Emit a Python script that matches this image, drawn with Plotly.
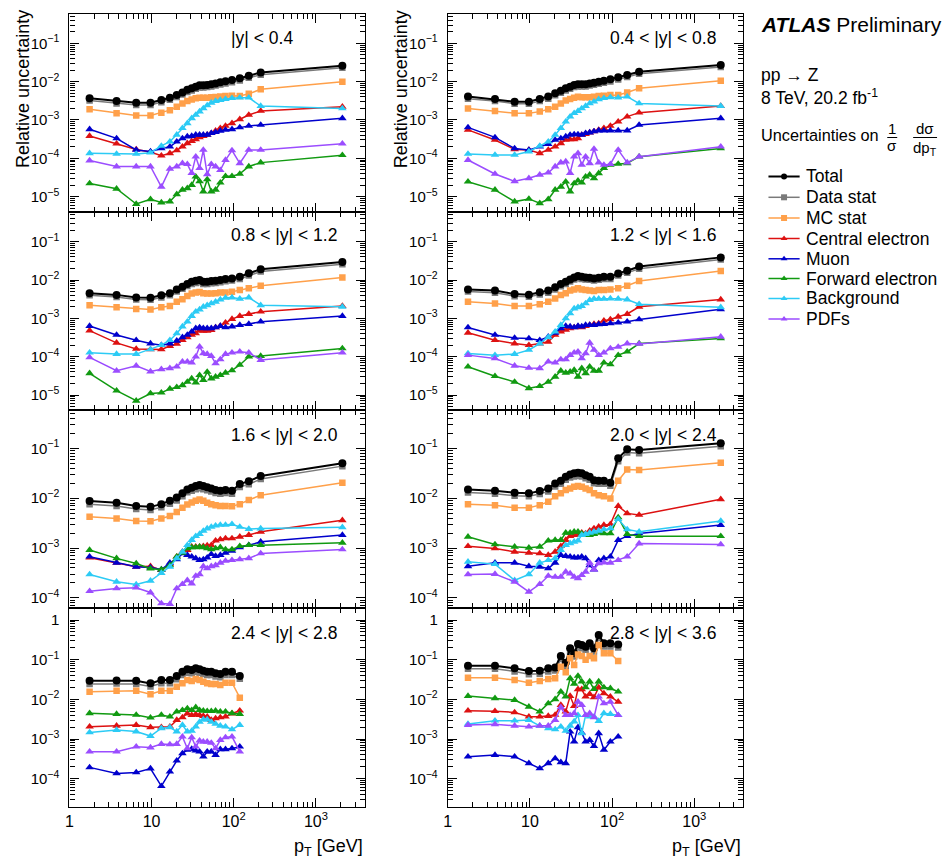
import plotly.graph_objects as go

# ---------------- data ----------------
PT = [1.76, 3.75, 6.5, 9.7, 13.15, 16.7, 20.25, 23.75, 27.25, 30.8, 34.5, 38.4,
      42.65, 47.55, 53.3, 60.15, 68.65, 79.4, 95.2, 118.5, 152.5, 213.0, 2100.0]
PT_FWD = [1.76, 3.75, 6.5, 9.7, 13.15, 16.7, 20.25, 23.75, 27.25, 30.8, 34.5, 38.4,
          42.65, 47.55, 53.3, 60.15, 68.65, 79.4, 95.2, 118.5]

RAPIDITY_LABELS = ["|y| < 0.4", "0.4 < |y| < 0.8", "0.8 < |y| < 1.2", "1.2 < |y| < 1.6",
                   "1.6 < |y| < 2.0", "2.0 < |y| < 2.4", "2.4 < |y| < 2.8", "2.8 < |y| < 3.6"]

SERIES_NAMES = ["Total", "Data stat", "MC stat", "Central electron", "Muon",
                "Forward electron", "Background", "PDFs"]

# panel 1 : |y| < 0.4
TOTAL_1 = [3.7e-3, 3.1e-3, 2.8e-3, 2.8e-3, 3.3e-3, 3.8e-3, 4.5e-3, 5.2e-3, 6.1e-3, 6.7e-3, 7.4e-3, 8.0e-3, 8.0e-3, 8.2e-3, 8.5e-3, 9.0e-3, 9.6e-3, 1.02e-2, 1.1e-2, 1.22e-2, 1.43e-2, 1.72e-2, 2.6e-2]
DATA_1 = [3.2e-3, 2.7e-3, 2.45e-3, 2.45e-3, 2.9e-3, 3.35e-3, 3.95e-3, 4.6e-3, 5.4e-3, 5.9e-3, 6.5e-3, 7.0e-3, 7.0e-3, 7.2e-3, 7.5e-3, 7.9e-3, 8.4e-3, 9.0e-3, 9.7e-3, 1.07e-2, 1.26e-2, 1.52e-2, 2.3e-2]
MC_1 = [1.9e-3, 1.5e-3, 1.3e-3, 1.3e-3, 1.55e-3, 1.8e-3, 2.2e-3, 2.7e-3, 3.1e-3, 3.4e-3, 3.7e-3, 3.8e-3, 3.8e-3, 3.8e-3, 3.9e-3, 4.0e-3, 4.1e-3, 4.2e-3, 4.3e-3, 4.2e-3, 4.8e-3, 6.3e-3, 1.0e-2]
CEL_1 = [3.8e-4, 2.4e-4, 1.7e-4, 1.45e-4, 1.17e-4, 1.35e-4, 1.6e-4, 2.0e-4, 2.45e-4, 2.8e-4, 3.1e-4, 3.5e-4, 3.8e-4, 4.1e-4, 4.5e-4, 5.2e-4, 6.1e-4, 7.0e-4, 8.2e-4, 1.04e-3, 1.35e-3, 1.72e-3, 2.2e-3]
MUON_1 = [5.7e-4, 3.3e-4, 1.65e-4, 1.5e-4, 1.8e-4, 2.0e-4, 2.7e-4, 3.3e-4, 3.7e-4, 3.8e-4, 4.1e-4, 4.1e-4, 4.1e-4, 4.1e-4, 4.5e-4, 4.8e-4, 5.2e-4, 5.5e-4, 5.7e-4, 6.4e-4, 7.0e-4, 7.4e-4, 1.1e-3]
FEL_1 = [2.2e-5, 1.6e-5, 6.4e-6, 8.5e-6, 7.0e-6, 7.4e-6, 1.15e-5, 1.5e-5, 1.65e-5, 2.0e-5, 3.3e-5, 2.5e-5, 1.35e-5, 2.8e-5, 1.35e-5, 1.5e-5, 2.3e-5, 3.4e-5, 3.4e-5, 3.9e-5, 6.1e-5, 7.7e-5, 1.2e-4]
BKG_1 = [1.35e-4, 1.3e-4, 1.3e-4, 1.4e-4, 2.1e-4, 2.7e-4, 4.1e-4, 6.1e-4, 8.2e-4, 1.1e-3, 1.35e-3, 1.65e-3, 2.0e-3, 2.4e-3, 2.8e-3, 3.1e-3, 3.3e-3, 3.5e-3, 3.7e-3, 3.8e-3, 3.8e-3, 2.3e-3, 2.0e-3]
PDF_1 = [8.7e-5, 6.1e-5, 6.1e-5, 6.1e-5, 1.8e-5, 5.3e-5, 6.1e-5, 7.4e-5, 7.0e-5, 4.1e-5, 1.1e-4, 5.5e-5, 1.65e-4, 3.8e-5, 7.0e-5, 6.1e-5, 4.9e-5, 9.0e-5, 1.6e-4, 7.4e-5, 1.65e-4, 1.65e-4, 2.4e-4]

# panel 2 : 0.4 < |y| < 0.8
TOTAL_2 = [4.1e-3, 3.5e-3, 3.0e-3, 3.0e-3, 3.5e-3, 4.1e-3, 5.0e-3, 5.8e-3, 6.7e-3, 7.4e-3, 8.2e-3, 8.5e-3, 8.5e-3, 8.5e-3, 9.0e-3, 9.4e-3, 1.0e-2, 1.06e-2, 1.15e-2, 1.3e-2, 1.5e-2, 1.82e-2, 2.7e-2]
DATA_2 = [3.6e-3, 3.1e-3, 2.65e-3, 2.65e-3, 3.1e-3, 3.6e-3, 4.4e-3, 5.1e-3, 5.9e-3, 6.5e-3, 7.2e-3, 7.5e-3, 7.5e-3, 7.5e-3, 7.9e-3, 8.3e-3, 8.8e-3, 9.3e-3, 1.01e-2, 1.14e-2, 1.32e-2, 1.6e-2, 2.4e-2]
MC_2 = [2.0e-3, 1.7e-3, 1.5e-3, 1.5e-3, 1.65e-3, 1.9e-3, 2.2e-3, 2.7e-3, 3.2e-3, 3.5e-3, 3.8e-3, 4.05e-3, 3.9e-3, 3.9e-3, 3.9e-3, 4.05e-3, 4.2e-3, 4.3e-3, 4.5e-3, 4.5e-3, 5.2e-3, 6.7e-3, 1.06e-2]
CEL_2 = [5.5e-4, 3.0e-4, 1.7e-4, 1.65e-4, 1.35e-4, 1.65e-4, 2.0e-4, 2.45e-4, 3.0e-4, 3.1e-4, 3.1e-4, 3.3e-4, 4.05e-4, 4.3e-4, 4.7e-4, 5.0e-4, 5.5e-4, 6.1e-4, 7.0e-4, 9.0e-4, 1.22e-3, 1.55e-3, 2.3e-3]
MUON_2 = [6.4e-4, 3.5e-4, 1.8e-4, 1.65e-4, 2.0e-4, 2.35e-4, 3.0e-4, 3.3e-4, 3.7e-4, 4.05e-4, 4.2e-4, 4.2e-4, 4.05e-4, 4.5e-4, 4.7e-4, 5.0e-4, 5.3e-4, 5.3e-4, 5.3e-4, 5.3e-4, 5.3e-4, 7.4e-4, 1.1e-3]
FEL_2 = [2.45e-5, 1.5e-5, 7.4e-6, 8.7e-6, 6.7e-6, 8.5e-6, 1.5e-5, 1.8e-5, 2.45e-5, 1.35e-5, 2.2e-5, 2.6e-5, 2.3e-5, 3.3e-5, 3.7e-5, 3.0e-5, 4.05e-5, 5.5e-5, 6.7e-5, 7.1e-5, 7.4e-5, 1.1e-4, 1.8e-4]
BKG_2 = [1.3e-4, 1.22e-4, 1.22e-4, 1.5e-4, 2.1e-4, 2.7e-4, 4.05e-4, 6.1e-4, 9.0e-4, 1.22e-3, 1.5e-3, 1.7e-3, 2.0e-3, 2.3e-3, 2.7e-3, 3.0e-3, 3.45e-3, 3.7e-3, 3.9e-3, 3.8e-3, 4.05e-3, 2.7e-3, 2.3e-3]
PDF_2 = [9.0e-5, 3.9e-5, 2.5e-5, 3.0e-5, 3.7e-5, 4.2e-5, 6.1e-5, 7.7e-5, 8.2e-5, 4.1e-5, 1.1e-4, 1.35e-4, 6.7e-5, 1.1e-4, 7.4e-5, 1.75e-4, 7.7e-5, 6.7e-5, 7.0e-5, 1.65e-4, 7.7e-5, 1.1e-4, 2.0e-4]

# panel 3 : 0.8 < |y| < 1.2
TOTAL_3 = [4.5e-3, 4.1e-3, 3.5e-3, 3.45e-3, 4.0e-3, 4.5e-3, 5.7e-3, 6.7e-3, 7.9e-3, 9.0e-3, 9.6e-3, 1.0e-2, 9.0e-3, 9.0e-3, 9.4e-3, 9.6e-3, 1.0e-2, 1.06e-2, 1.1e-2, 1.22e-2, 1.5e-2, 1.9e-2, 2.95e-2]
DATA_3 = [4.0e-3, 3.6e-3, 3.1e-3, 3.05e-3, 3.5e-3, 4.0e-3, 5.0e-3, 5.9e-3, 7.0e-3, 7.9e-3, 8.4e-3, 8.8e-3, 7.9e-3, 7.9e-3, 8.3e-3, 8.4e-3, 8.8e-3, 9.3e-3, 9.7e-3, 1.07e-2, 1.32e-2, 1.67e-2, 2.6e-2]
MC_3 = [2.2e-3, 1.95e-3, 1.75e-3, 1.7e-3, 1.95e-3, 2.1e-3, 2.7e-3, 3.15e-3, 3.85e-3, 4.45e-3, 4.7e-3, 4.85e-3, 4.5e-3, 4.45e-3, 4.45e-3, 4.5e-3, 4.7e-3, 4.7e-3, 4.95e-3, 5.5e-3, 6.1e-3, 7.1e-3, 1.17e-2]
CEL_3 = [4.8e-4, 2.3e-4, 1.6e-4, 1.55e-4, 1.55e-4, 1.9e-4, 2.15e-4, 2.7e-4, 3.2e-4, 3.7e-4, 4.05e-4, 4.8e-4, 4.7e-4, 4.7e-4, 4.95e-4, 5.8e-4, 6.3e-4, 7.7e-4, 9.6e-4, 1.15e-3, 1.3e-3, 1.5e-3, 2.1e-3]
MUON_3 = [6.3e-4, 3.7e-4, 2.7e-4, 2.2e-4, 2.0e-4, 2.2e-4, 2.6e-4, 3.2e-4, 3.7e-4, 4.5e-4, 5.5e-4, 5.8e-4, 5.5e-4, 5.5e-4, 5.5e-4, 5.8e-4, 6.3e-4, 5.8e-4, 6.1e-4, 6.7e-4, 7.1e-4, 8.2e-4, 1.15e-3]
FEL_3 = [3.7e-5, 1.3e-5, 7.1e-6, 1.1e-5, 1.15e-5, 1.45e-5, 1.6e-5, 1.8e-5, 2.2e-5, 2.7e-5, 2.1e-5, 3.3e-5, 2.45e-5, 4.0e-5, 2.7e-5, 3.0e-5, 3.3e-5, 3.8e-5, 4.4e-5, 6.1e-5, 1.0e-4, 1.04e-4, 1.65e-4]
BKG_3 = [1.27e-4, 1.17e-4, 1.17e-4, 1.55e-4, 2.0e-4, 2.7e-4, 4.05e-4, 6.1e-4, 8.2e-4, 1.15e-3, 1.5e-3, 1.7e-3, 2.0e-3, 2.2e-3, 2.45e-3, 2.7e-3, 3.1e-3, 3.45e-3, 3.5e-3, 3.25e-3, 3.5e-3, 2.2e-3, 2.0e-3]
PDF_3 = [9.6e-5, 4.3e-5, 5.8e-5, 4.1e-5, 4.7e-5, 5.0e-5, 5.5e-5, 7.4e-5, 7.4e-5, 7.0e-5, 1.0e-4, 1.82e-4, 1.22e-4, 1.17e-4, 1.04e-4, 6.7e-5, 8.5e-5, 1.17e-4, 1.27e-4, 1.35e-4, 1.27e-4, 8.2e-5, 1.27e-4]

# panel 4 : 1.2 < |y| < 1.6
TOTAL_4 = [5.7e-3, 5.3e-3, 4.3e-3, 4.15e-3, 4.8e-3, 5.3e-3, 6.5e-3, 7.9e-3, 9.0e-3, 1.04e-2, 1.17e-2, 1.27e-2, 1.22e-2, 1.17e-2, 1.15e-2, 1.1e-2, 1.15e-2, 1.22e-2, 1.22e-2, 1.49e-2, 1.75e-2, 2.25e-2, 3.9e-2]
DATA_4 = [5.0e-3, 4.65e-3, 3.8e-3, 3.65e-3, 4.2e-3, 4.65e-3, 5.7e-3, 6.9e-3, 7.9e-3, 9.1e-3, 1.03e-2, 1.12e-2, 1.07e-2, 1.03e-2, 1.01e-2, 9.7e-3, 1.01e-2, 1.07e-2, 1.07e-2, 1.31e-2, 1.54e-2, 1.98e-2, 3.45e-2]
MC_4 = [2.7e-3, 2.45e-3, 2.1e-3, 2.1e-3, 2.35e-3, 2.7e-3, 3.3e-3, 4.05e-3, 4.5e-3, 5.3e-3, 5.7e-3, 6.1e-3, 5.7e-3, 5.5e-3, 5.3e-3, 5.2e-3, 5.5e-3, 5.5e-3, 5.7e-3, 6.1e-3, 7.1e-3, 9.4e-3, 1.72e-2]
CEL_4 = [4.2e-4, 2.7e-4, 2.2e-4, 2.0e-4, 2.2e-4, 2.45e-4, 3.7e-4, 4.5e-4, 5.0e-4, 5.5e-4, 5.8e-4, 6.1e-4, 5.8e-4, 6.3e-4, 6.7e-4, 7.1e-4, 7.4e-4, 8.7e-4, 9.4e-4, 1.1e-3, 1.3e-3, 2.0e-3, 3.1e-3]
MUON_4 = [5.8e-4, 3.7e-4, 3.1e-4, 3.0e-4, 2.7e-4, 3.3e-4, 4.2e-4, 5.5e-4, 6.3e-4, 6.1e-4, 5.8e-4, 6.3e-4, 6.1e-4, 6.7e-4, 6.7e-4, 6.7e-4, 7.0e-4, 7.1e-4, 7.4e-4, 7.7e-4, 8.2e-4, 9.4e-4, 1.72e-3]
FEL_4 = [5.5e-5, 3.1e-5, 2.2e-5, 1.5e-5, 1.7e-5, 2.2e-5, 3.0e-5, 4.3e-5, 3.8e-5, 4.05e-5, 4.5e-5, 3.0e-5, 5.0e-5, 3.7e-5, 5.5e-5, 4.3e-5, 4.3e-5, 7.0e-5, 6.3e-5, 1.1e-4, 1.35e-4, 2.2e-4, 3.0e-4]
BKG_4 = [1.22e-4, 1.1e-4, 1.17e-4, 1.5e-4, 2.2e-4, 3.2e-4, 4.5e-4, 6.7e-4, 1.0e-3, 1.35e-3, 1.8e-3, 1.95e-3, 2.1e-3, 2.45e-3, 3.0e-3, 3.25e-3, 3.25e-3, 3.25e-3, 3.3e-3, 3.25e-3, 3.1e-3, 2.35e-3, 1.95e-3]
PDF_4 = [1.1e-4, 9.0e-5, 5.8e-5, 5.1e-5, 5.0e-5, 7.4e-5, 7.0e-5, 8.5e-5, 8.5e-5, 1.1e-4, 1.27e-4, 1.35e-4, 9.0e-5, 1.22e-4, 2.3e-4, 1.5e-4, 1.1e-4, 1.27e-4, 1.65e-4, 1.8e-4, 2.2e-4, 2.15e-4, 3.3e-4]

# panel 5 : 1.6 < |y| < 2.0
TOTAL_5 = [8.75e-3, 8.1e-3, 7.0e-3, 6.7e-3, 7.6e-3, 8.9e-3, 1.03e-2, 1.25e-2, 1.5e-2, 1.62e-2, 1.75e-2, 1.83e-2, 1.75e-2, 1.65e-2, 1.57e-2, 1.46e-2, 1.41e-2, 1.46e-2, 1.41e-2, 1.92e-2, 2.2e-2, 2.78e-2, 5.0e-2]
DATA_5 = [7.6e-3, 7.0e-3, 6.1e-3, 5.8e-3, 6.6e-3, 7.7e-3, 9.0e-3, 1.09e-2, 1.31e-2, 1.41e-2, 1.52e-2, 1.59e-2, 1.52e-2, 1.44e-2, 1.37e-2, 1.27e-2, 1.23e-2, 1.27e-2, 1.23e-2, 1.67e-2, 1.91e-2, 2.42e-2, 4.4e-2]
MC_5 = [4.25e-3, 3.9e-3, 3.5e-3, 3.45e-3, 3.9e-3, 4.4e-3, 5.3e-3, 6.4e-3, 7.5e-3, 8.2e-3, 8.9e-3, 9.4e-3, 8.9e-3, 8.1e-3, 7.6e-3, 7.2e-3, 7.0e-3, 7.0e-3, 6.9e-3, 7.6e-3, 9.2e-3, 1.15e-2, 2.05e-2]
CEL_5 = [6.4e-4, 5.05e-4, 4.2e-4, 4.3e-4, 3.6e-4, 4.7e-4, 6.7e-4, 8.4e-4, 9.1e-4, 1.06e-3, 1.06e-3, 1.06e-3, 1.09e-3, 1.12e-3, 1.14e-3, 1.4e-3, 1.49e-3, 1.56e-3, 1.56e-3, 1.68e-3, 1.82e-3, 2.12e-3, 3.6e-3]
MUON_5 = [6.7e-4, 5.05e-4, 4.2e-4, 4.05e-4, 3.7e-4, 5.05e-4, 5.9e-4, 7.8e-4, 7.2e-4, 6.7e-4, 6.2e-4, 5.7e-4, 5.9e-4, 6.4e-4, 7.5e-4, 6.9e-4, 7.2e-4, 8.0e-4, 8.8e-4, 1.03e-3, 1.14e-3, 1.33e-3, 1.82e-3]
FEL_5 = [9.1e-4, 6.2e-4, 4.9e-4, 3.85e-4, 3.7e-4, 4.5e-4, 6.7e-4, 8.0e-4, 9.8e-4, 1.03e-3, 1.03e-3, 1.06e-3, 1.03e-3, 9.8e-4, 9.35e-4, 9.8e-4, 1.03e-3, 9.35e-4, 9.35e-4, 1.09e-3, 1.14e-3, 1.14e-3, 1.27e-3]
BKG_5 = [2.95e-4, 2.1e-4, 1.85e-4, 2.2e-4, 3.15e-4, 4.2e-4, 6.2e-4, 8.4e-4, 1.14e-3, 1.44e-3, 1.73e-3, 1.9e-3, 2.2e-3, 2.45e-3, 2.65e-3, 2.8e-3, 2.9e-3, 2.9e-3, 3.0e-3, 2.65e-3, 2.4e-3, 2.45e-3, 2.6e-3]
PDF_5 = [1.36e-4, 1.54e-4, 1.6e-4, 1.28e-4, 7.7e-5, 7.5e-5, 1.54e-4, 1.88e-4, 2.25e-4, 1.93e-4, 2.75e-4, 2.95e-4, 4.3e-4, 3.9e-4, 4.3e-4, 4.5e-4, 5.05e-4, 5.5e-4, 5.7e-4, 5.9e-4, 6.2e-4, 7.8e-4, 9.35e-4]

# panel 6 : 2.0 < |y| < 2.4
TOTAL_6 = [1.5e-2, 1.41e-2, 1.29e-2, 1.25e-2, 1.39e-2, 1.57e-2, 1.98e-2, 2.24e-2, 2.7e-2, 2.99e-2, 3.15e-2, 3.24e-2, 3.15e-2, 2.9e-2, 2.7e-2, 2.3e-2, 2.24e-2, 2.24e-2, 2.04e-2, 6.3e-2, 9.55e-2, 9.25e-2, 0.126]
DATA_6 = [1.3e-2, 1.23e-2, 1.12e-2, 1.09e-2, 1.21e-2, 1.37e-2, 1.72e-2, 1.95e-2, 2.35e-2, 2.6e-2, 2.74e-2, 2.82e-2, 2.74e-2, 2.52e-2, 2.35e-2, 2.0e-2, 1.95e-2, 1.95e-2, 1.77e-2, 5.5e-2, 8.3e-2, 8.0e-2, 0.11]
MC_6 = [7.6e-3, 7.25e-3, 6.4e-3, 6.4e-3, 7.25e-3, 8.5e-3, 1.1e-2, 1.25e-2, 1.46e-2, 1.57e-2, 1.7e-2, 1.75e-2, 1.7e-2, 1.57e-2, 1.46e-2, 1.25e-2, 1.15e-2, 1.1e-2, 9.9e-3, 2.24e-2, 3.78e-2, 3.67e-2, 5.15e-2]
CEL_6 = [1.09e-3, 9.8e-4, 8.4e-4, 8.0e-4, 7.8e-4, 7.2e-4, 8.4e-4, 1.09e-3, 1.44e-3, 1.73e-3, 1.82e-3, 1.9e-3, 2.02e-3, 1.96e-3, 2.22e-3, 2.47e-3, 2.67e-3, 2.88e-3, 3.0e-3, 6.95e-3, 4.95e-3, 4.6e-3, 9.5e-3]
MUON_6 = [4.3e-4, 5.05e-4, 5.05e-4, 4.3e-4, 4.2e-4, 3.9e-4, 5.05e-4, 7.2e-4, 6.9e-4, 6.7e-4, 6.45e-4, 6.45e-4, 6.7e-4, 6.2e-4, 4.5e-4, 3.7e-4, 5.7e-4, 6.2e-4, 6.7e-4, 1.44e-3, 1.73e-3, 1.96e-3, 2.88e-3]
FEL_6 = [1.68e-3, 1.18e-3, 1.06e-3, 1.01e-3, 1.06e-3, 1.4e-3, 1.44e-3, 1.44e-3, 2.02e-3, 2.02e-3, 2.12e-3, 2.12e-3, 1.96e-3, 1.82e-3, 1.82e-3, 1.9e-3, 2.02e-3, 1.96e-3, 1.96e-3, 4.1e-3, 1.9e-3, 1.73e-3, 1.73e-3]
BKG_6 = [5.3e-4, 4.75e-4, 2.25e-4, 2.95e-4, 5.05e-4, 5.7e-4, 6.2e-4, 9.1e-4, 1.14e-3, 1.24e-3, 1.33e-3, 1.4e-3, 1.82e-3, 1.9e-3, 2.02e-3, 2.12e-3, 2.22e-3, 2.36e-3, 2.47e-3, 3.8e-3, 2.36e-3, 2.12e-3, 3.5e-3]
PDF_6 = [2.95e-4, 3.0e-4, 2.1e-4, 1.32e-4, 1.88e-4, 2.75e-4, 2.63e-4, 2.63e-4, 3.33e-4, 3.08e-4, 2.63e-4, 2.45e-4, 2.85e-4, 3.33e-4, 5.05e-4, 3.7e-4, 4.9e-4, 5.1e-4, 5.05e-4, 5.7e-4, 6.7e-4, 1.23e-3, 1.18e-3]

# panel 7 : 2.4 < |y| < 2.8
TOTAL_7 = [2.96e-2, 3.0e-2, 2.96e-2, 2.53e-2, 3.07e-2, 3.07e-2, 3.87e-2, 4.98e-2, 5.7e-2, 5.5e-2, 6.05e-2, 5.7e-2, 5.28e-2, 4.98e-2, 4.98e-2, 4.52e-2, 4.35e-2, 4.98e-2, 4.98e-2, 3.87e-2]
DATA_7 = [2.45e-2, 2.5e-2, 2.45e-2, 2.1e-2, 2.55e-2, 2.55e-2, 3.2e-2, 4.1e-2, 4.7e-2, 4.55e-2, 5.0e-2, 4.7e-2, 4.35e-2, 4.1e-2, 4.1e-2, 3.75e-2, 3.6e-2, 4.1e-2, 4.1e-2, 3.3e-2]
MC_7 = [1.56e-2, 1.65e-2, 1.65e-2, 1.34e-2, 1.65e-2, 1.65e-2, 2.09e-2, 2.53e-2, 3.07e-2, 2.9e-2, 3.26e-2, 3.07e-2, 2.79e-2, 2.53e-2, 2.43e-2, 2.43e-2, 2.3e-2, 2.63e-2, 2.63e-2, 1.1e-2]
CEL_7 = [2.05e-3, 2.15e-3, 2.25e-3, 1.97e-3, 1.97e-3, 2.05e-3, 3.0e-3, 3.5e-3, 4.4e-3, 4.0e-3, 4.2e-3, 4.0e-3, 3.8e-3, 3.65e-3, 3.0e-3, 3.3e-3, 3.5e-3, 3.65e-3, 4.4e-3, 5.2e-3]
MUON_7 = [1.93e-4, 1.36e-4, 1.44e-4, 1.8e-4, 6.5e-5, 1.5e-4, 2.85e-4, 4.35e-4, 5.3e-4, 5.6e-4, 5.1e-4, 4.8e-4, 3.6e-4, 4.8e-4, 4.8e-4, 3.95e-4, 5.5e-4, 5.5e-4, 5.8e-4, 6.4e-4]
FEL_7 = [4.45e-3, 4.25e-3, 4.05e-3, 3.45e-3, 4.05e-3, 3.65e-3, 4.9e-3, 5.35e-3, 5.9e-3, 5.35e-3, 6.3e-3, 5.35e-3, 5.15e-3, 5.05e-3, 5.05e-3, 5.15e-3, 4.9e-3, 4.9e-3, 4.45e-3, 4.25e-3]
BKG_7 = [1.47e-3, 1.69e-3, 1.54e-3, 1.19e-3, 1.87e-3, 1.97e-3, 1.54e-3, 2.25e-3, 1.54e-3, 1.6e-3, 2.05e-3, 2.7e-3, 3.1e-3, 3.1e-3, 2.7e-3, 2.4e-3, 2.15e-3, 2.05e-3, 1.75e-3, 2.25e-3]
PDF_7 = [4.8e-4, 4.8e-4, 6.4e-4, 6.1e-4, 7.5e-4, 7.3e-4, 7.5e-4, 1.15e-3, 5.8e-4, 1.1e-3, 6.4e-4, 9.1e-4, 8.5e-4, 8.5e-4, 8.0e-4, 5.8e-4, 9.4e-4, 1.1e-3, 1.15e-3, 4.8e-4]

# panel 8 : 2.8 < |y| < 3.6
TOTAL_8 = [7.05e-2, 7.05e-2, 6.05e-2, 5.2e-2, 5.3e-2, 6.05e-2, 6.4e-2, 0.124, 8.4e-2, 0.193, 0.145, 0.248, 0.234, 0.213, 0.258, 0.193, 0.419, 0.258, 0.258, 0.243]
DATA_8 = [5.9e-2, 5.9e-2, 5.05e-2, 4.3e-2, 4.4e-2, 5.05e-2, 5.35e-2, 0.104, 7.0e-2, 0.161, 0.121, 0.207, 0.195, 0.178, 0.215, 0.161, 0.35, 0.215, 0.215, 0.203]
MC_8 = [3.5e-2, 3.5e-2, 3.07e-2, 2.63e-2, 2.9e-2, 3.26e-2, 3.4e-2, 6.65e-2, 4.8e-2, 0.108, 7.35e-2, 0.136, 0.124, 0.1, 0.124, 0.108, 0.234, 0.145, 0.145, 9.25e-2]
CEL_8 = [5.2e-3, 5.05e-3, 4.7e-3, 3.65e-3, 3.65e-3, 3.8e-3, 4.05e-3, 7.2e-3, 4.9e-3, 1.21e-2, 6.8e-3, 1.79e-2, 1.79e-2, 1.17e-2, 1.36e-2, 1.13e-2, 2.0e-2, 1.41e-2, 1.17e-2, 8.7e-3]
MUON_8 = [3.6e-4, 3.95e-4, 3.6e-4, 2.45e-4, 1.82e-4, 2.45e-4, 3.25e-4, 2.6e-4, 2.45e-4, 1.53e-3, 8.6e-4, 1.97e-3, 1.45e-3, 8.6e-4, 9.4e-4, 6.6e-4, 1.39e-3, 5.3e-4, 8.6e-4, 1.15e-3]
FEL_8 = [1.21e-2, 1.06e-2, 9.6e-3, 6.5e-3, 4.9e-3, 7.9e-3, 1.0e-2, 1.56e-2, 1.17e-2, 3.4e-2, 2.45e-2, 3.9e-2, 2.8e-2, 2.0e-2, 2.8e-2, 1.8e-2, 2.8e-2, 2.0e-2, 1.9e-2, 1.56e-2]
BKG_8 = [2.4e-3, 2.9e-3, 2.9e-3, 3.0e-3, 2.15e-3, 1.86e-3, 1.75e-3, 2.05e-3, 1.6e-3, 2.15e-3, 2.75e-3, 4.0e-3, 1.4e-3, 4.0e-3, 3.65e-3, 3.65e-3, 2.85e-3, 4.45e-3, 4.25e-3, 4.0e-3]
PDF_8 = [2.25e-3, 2.35e-3, 2.15e-3, 2.05e-3, 2.15e-3, 2.15e-3, 3.0e-3, 6.3e-3, 4.0e-3, 4.0e-3, 4.45e-3, 8.7e-3, 7.2e-3, 4.0e-3, 4.45e-3, 3.5e-3, 1.17e-2, 7.9e-3, 8.7e-3, 4.0e-3]

X_TICKS = [1, 10, 100, 1000]
X_TICKTEXT = ["1", "10", "10<sup>2</sup>", "10<sup>3</sup>"]
Y_TICKS = [1e-5, 1e-4, 1e-3, 1e-2, 1e-1, 1]
Y_TICKTEXT = ["10<sup>\u22125</sup>", "10<sup>\u22124</sup>", "10<sup>\u22123</sup>",
              "10<sup>\u22122</sup>", "10<sup>\u22121</sup>", "1"]

# ---------------- assemble ----------------
PANELS = [
    (PT, [TOTAL_1, DATA_1, MC_1, CEL_1, MUON_1, FEL_1, BKG_1, PDF_1]),
    (PT, [TOTAL_2, DATA_2, MC_2, CEL_2, MUON_2, FEL_2, BKG_2, PDF_2]),
    (PT, [TOTAL_3, DATA_3, MC_3, CEL_3, MUON_3, FEL_3, BKG_3, PDF_3]),
    (PT, [TOTAL_4, DATA_4, MC_4, CEL_4, MUON_4, FEL_4, BKG_4, PDF_4]),
    (PT, [TOTAL_5, DATA_5, MC_5, CEL_5, MUON_5, FEL_5, BKG_5, PDF_5]),
    (PT, [TOTAL_6, DATA_6, MC_6, CEL_6, MUON_6, FEL_6, BKG_6, PDF_6]),
    (PT_FWD, [TOTAL_7, DATA_7, MC_7, CEL_7, MUON_7, FEL_7, BKG_7, PDF_7]),
    (PT_FWD, [TOTAL_8, DATA_8, MC_8, CEL_8, MUON_8, FEL_8, BKG_8, PDF_8]),
]

COLORS = ["#000000", "#7a7a7a", "#ffa04a", "#dd1111", "#0000cc", "#119a11", "#2ccbf5", "#9b4dff"]
SYMBOLS = ["circle", "square", "square", "triangle-up", "triangle-up", "triangle-up", "triangle-up", "triangle-up"]
MSIZE = [8, 6.5, 6.5, 7.5, 7.5, 7.5, 7.5, 7.5]
LWIDTH = [2, 1.5, 1.5, 1.5, 1.5, 1.5, 1.5, 1.5]
DRAW_ORDER = [1, 0, 2, 3, 4, 5, 6, 7]

W, H = 949, 861
FONT = "Liberation Sans, Arial, Helvetica, sans-serif"
COL_PX = [(65.7, 362.3), (445.7, 742.3)]
ROW_PX = [(14.0, 212.3), (212.3, 410.0), (410.0, 608.3), (608.3, 806.7)]
ROW_YRANGE = [(-5.41, -0.235), (-5.39, -0.233), (-4.21, -0.23), (-4.705, 0.295)]
LABEL_Y_PX = [38.3, 235.0, 435.0, 632.7]

minor_x = [m * 10 ** e for e in range(0, 4) for m in range(2, 10) if m * 10 ** e < 4000]
minor_y = [m * 10.0 ** e for e in range(-6, 1) for m in range(2, 10)]

fig = go.Figure()
layout = dict(width=W, height=H, margin=dict(l=0, r=0, t=0, b=0),
              paper_bgcolor="white", plot_bgcolor="rgba(0,0,0,0)", showlegend=False,
              font=dict(family=FONT, color="black"))
annotations = []
shapes = []

for p, (xs, series) in enumerate(PANELS):
    row, col = p // 2, p % 2
    sfx = "" if p == 0 else str(p + 1)
    xl, xr = COL_PX[col]
    yt, yb = ROW_PX[row]
    for s in DRAW_ORDER:
        fig.add_trace(go.Scatter(
            x=xs, y=series[s], mode="lines+markers", name=SERIES_NAMES[s],
            line=dict(color=COLORS[s], width=LWIDTH[s]),
            marker=dict(symbol=SYMBOLS[s], size=MSIZE[s], color=COLORS[s], line=dict(width=0)),
            xaxis="x" + sfx, yaxis="y" + sfx, showlegend=False))
    layout["xaxis" + sfx] = dict(
        type="log", range=[0, 3.595], domain=[xl / W, xr / W], anchor="y" + sfx,
        showline=True, linecolor="black", linewidth=1.2, mirror="allticks",
        ticks="inside", ticklen=9, tickwidth=1, tickcolor="black",
        tickmode="array", tickvals=X_TICKS, ticktext=X_TICKTEXT,
        showticklabels=(row == 3), tickfont=dict(size=16, family=FONT),
        ticklabelstandoff=0,
        minor=dict(ticks="inside", ticklen=5, tickwidth=1, tickcolor="black",
                   tickmode="array", tickvals=minor_x, showgrid=False),
        showgrid=False, zeroline=False)
    lo, hi = ROW_YRANGE[row]
    layout["yaxis" + sfx] = dict(
        type="log", range=[lo, hi], domain=[1 - yb / H, 1 - yt / H], anchor="x" + sfx,
        showline=True, linecolor="black", linewidth=1.2, mirror="allticks",
        ticks="inside", ticklen=9, tickwidth=1, tickcolor="black",
        tickmode="array", tickvals=Y_TICKS, ticktext=Y_TICKTEXT,
        tickfont=dict(size=15, family=FONT), ticklabelstandoff=6,
        minor=dict(ticks="inside", ticklen=5, tickwidth=1, tickcolor="black",
                   tickmode="array", tickvals=minor_y, showgrid=False),
        showgrid=False, zeroline=False)
    annotations.append(dict(
        text=RAPIDITY_LABELS[p], xref="paper", yref="paper",
        x=(xl + 160.5) / W, y=1 - LABEL_Y_PX[row] / H, xanchor="left", yanchor="middle",
        showarrow=False, font=dict(size=17.5, family=FONT)))
    if row == 0:
        annotations.append(dict(
            text="Relative uncertainty", xref="paper", yref="paper",
            x=(xl - 46.7) / W, y=1 - 89 / H, xanchor="center", yanchor="middle",
            textangle=-90, showarrow=False, font=dict(size=18, family=FONT)))
    if row == 3:
        annotations.append(dict(
            text="p<sub>T</sub> [GeV]", xref="paper", yref="paper",
            x=xr / W, y=1 - 847 / H, xanchor="right", yanchor="middle",
            showarrow=False, font=dict(size=18, family=FONT)))

# ---------------- legend / header text ----------------
TXT_X = 758.5
header = [
    ("<b><i>ATLAS</i></b> Preliminary", 25, 21),
    ("pp \u2192 Z", 75, 17.5),
    ("8 TeV, 20.2 fb<sup>-1</sup>", 97, 17.5),
    ("Uncertainties on", 135, 16.3),
]
for t, py, fs in header:
    annotations.append(dict(text=t, xref="paper", yref="paper", x=TXT_X / W, y=1 - py / H,
                            xanchor="left", yanchor="middle", showarrow=False,
                            font=dict(size=fs, family=FONT)))

# fraction 1/sigma dsigma/dpT
FR_Y_LINE = 137.5
frac_parts = [("1", 892, 128.5), ("\u03c3", 892, 146), ("d\u03c3", 925, 128.5), ("dp<sub>T</sub>", 925, 148)]
for t, px, py in frac_parts:
    annotations.append(dict(text=t, xref="paper", yref="paper", x=px / W, y=1 - py / H,
                            xanchor="center", yanchor="middle", showarrow=False,
                            font=dict(size=15, family=FONT)))
for x0, x1 in [(887, 897), (913, 937)]:
    shapes.append(dict(type="line", xref="paper", yref="paper", x0=x0 / W, x1=x1 / W,
                       y0=1 - FR_Y_LINE / H, y1=1 - FR_Y_LINE / H, line=dict(color="black", width=1)))

# legend entries (drawn on an overlay axis in pixel units)
LEG_Y = [176.5, 197.3, 218.0, 238.5, 258.8, 278.5, 298.5, 319.0]
LEG_X0, LEG_X1, LEG_TXT = 767.7, 799.0, 803.5
for i, name in enumerate(SERIES_NAMES):
    fig.add_trace(go.Scatter(
        x=[LEG_X0, LEG_X1], y=[LEG_Y[i], LEG_Y[i]], mode="lines",
        line=dict(color=COLORS[i], width=LWIDTH[i]), xaxis="x9", yaxis="y9",
        showlegend=False, hoverinfo="skip"))
    fig.add_trace(go.Scatter(
        x=[(LEG_X0 + LEG_X1) / 2], y=[LEG_Y[i]], mode="markers",
        marker=dict(symbol=SYMBOLS[i], size=6, color=COLORS[i], line=dict(width=0)),
        xaxis="x9", yaxis="y9", showlegend=False, hoverinfo="skip"))
    annotations.append(dict(text=name, xref="paper", yref="paper", x=LEG_TXT / W,
                            y=1 - LEG_Y[i] / H, xanchor="left", yanchor="middle",
                            showarrow=False, font=dict(size=17.5, family=FONT)))

layout["xaxis9"] = dict(domain=[0, 1], range=[0, W], visible=False, anchor="y9", fixedrange=True)
layout["yaxis9"] = dict(domain=[0, 1], range=[H, 0], visible=False, anchor="x9", fixedrange=True)
layout["annotations"] = annotations
layout["shapes"] = shapes

fig.update_layout(**layout)
fig.write_html("out.html")
